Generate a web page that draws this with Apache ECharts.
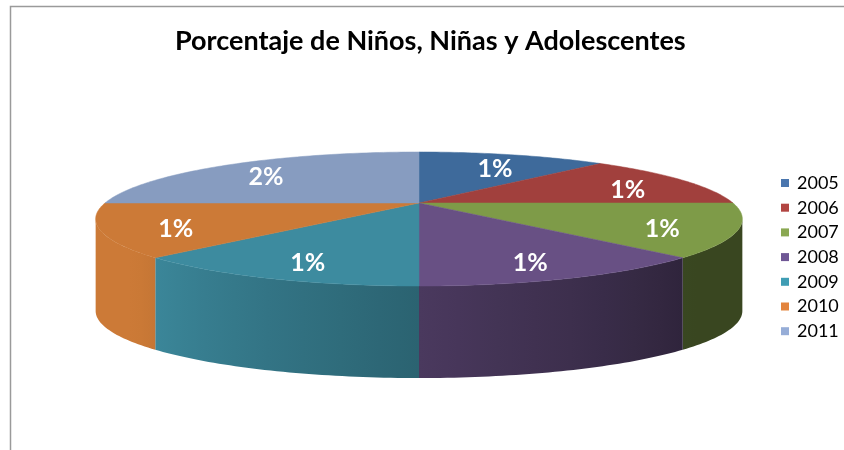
<!DOCTYPE html>
<html>
<head>
<meta charset="utf-8">
<script src="https://cdn.jsdelivr.net/npm/echarts@6/dist/echarts.min.js"></script>
<style>
html,body{margin:0;padding:0;background:#fff;}
#chart{width:844px;height:450px;}
</style>
</head>
<body>
<div id="chart"></div>
<script>
// ---- data ----
const years = ['2005', '2006', '2007', '2008', '2009', '2010', '2011'];
const values = [0.95, 1.05, 1.02, 0.98, 0.98, 1.02, 2.0];
const titleText = 'Porcentaje de Niños, Niñas y Adolescentes';

// ---- styles ----
const legendColors = ['#4A76AE', '#B24542', '#8AA852', '#6F5795', '#3F9DB4', '#E3843D', '#96ADD7'];
const topColors = ['#3E6A9B', '#A1403D', '#7E9B48', '#685084', '#3D8B9F', '#CC7A37', '#879CC0'];

// projection of the tilted (perspective) pie
const CX = 419, CY = 203, RX = 314, RY = 63.2, K = 0.2388, DEPTH = 92;
const SIL = Math.acos(-K) * 180 / Math.PI; // silhouette angle
function proj(deg, r, drop) {
  const t = deg * Math.PI / 180;
  const u = Math.sin(t) * r, v = -Math.cos(t) * r;
  const den = 1 - K * v;
  return [CX + RX * u / den, CY + RY * v / den + (drop || 0)];
}
function shade(hex, f) {
  const n = parseInt(hex.slice(1), 16);
  const r = Math.round(((n >> 16) & 255) * f), g = Math.round(((n >> 8) & 255) * f), b = Math.round((n & 255) * f);
  return 'rgb(' + r + ',' + g + ',' + b + ')';
}
function wallFactor(deg) {
  const f = 0.45 + (deg - 135) / 90 * 0.52;
  return Math.max(0.45, Math.min(1.0, f));
}

const total = values.reduce((a, b) => a + b, 0);
let cum = 0;
const series = years.map((y, i) => {
  const start = cum;
  cum += values[i];
  return {
    type: 'custom',
    name: y,
    coordinateSystem: 'none',
    itemStyle: { color: legendColors[i] },
    data: [[values[i], start, total, i]],
    renderItem: function (params, api) {
      const v = api.value(0), s = api.value(1), tot = api.value(2), idx = api.value(3);
      const a0 = s / tot * 360, a1 = (s + v) / tot * 360;
      const base = topColors[idx];
      const children = [];
      const pts = [proj(0, 0)];
      const steps = Math.max(2, Math.ceil(a1 - a0));
      for (let k = 0; k <= steps; k++) pts.push(proj(a0 + (a1 - a0) * k / steps, 1));
      const w0 = Math.max(a0, SIL), w1 = Math.min(a1, 360 - SIL);
      if (w1 > w0) {
        const wp = [];
        const ws = Math.max(2, Math.ceil(w1 - w0));
        for (let k = 0; k <= ws; k++) wp.push(proj(w0 + (w1 - w0) * k / ws, 1));
        for (let k = ws; k >= 0; k--) wp.push(proj(w0 + (w1 - w0) * k / ws, 1, DEPTH));
        const samp = [];
        for (let k = 0; k <= 8; k++) {
          const d = w0 + (w1 - w0) * k / 8;
          samp.push([proj(d, 1)[0], d]);
        }
        let xmin = Infinity, xmax = -Infinity;
        wp.forEach(p => { xmin = Math.min(xmin, p[0]); xmax = Math.max(xmax, p[0]); });
        const stops = samp.map(p => ({
          offset: Math.max(0, Math.min(1, (p[0] - xmin) / (xmax - xmin || 1))),
          color: shade(base, wallFactor(p[1]))
        }));
        stops.sort((p, q) => p.offset - q.offset);
        children.push({
          type: 'polygon', z2: 1,
          shape: { points: wp },
          style: { fill: { type: 'linear', x: xmin, y: 0, x2: xmax, y2: 0, global: true, colorStops: stops }, stroke: null }
        });
      }
      children.push({
        type: 'polygon', z2: 10,
        shape: { points: pts },
        style: { fill: base, stroke: base, lineWidth: 0.5 }
      });
      const lp = proj((a0 + a1) / 2, 0.78, 5);
      children.push({
        type: 'text', z2: 20,
        x: lp[0], y: lp[1],
        style: {
          text: Math.round(v) + '%', fill: '#ffffff',
          font: 'bold 25px Lato, "Liberation Sans", sans-serif',
          align: 'center', verticalAlign: 'middle'
        }
      });
      return { type: 'group', children: children };
    }
  };
});

const chart = echarts.init(document.getElementById('chart'), null, { renderer: 'canvas' });
chart.setOption({
  animation: false,
  backgroundColor: '#ffffff',
  color: legendColors,
  title: {
    text: titleText,
    left: 175,
    top: 28,
    padding: 0,
    textStyle: { fontFamily: 'Lato, "Liberation Sans", sans-serif', fontWeight: 'bold', fontSize: 27, color: '#000' }
  },
  legend: {
    orient: 'vertical',
    left: 776,
    top: 169,
    icon: 'rect',
    itemWidth: 8,
    itemHeight: 8,
    itemGap: 6.7,
    selectedMode: false,
    data: years,
    textStyle: { fontFamily: 'Lato, "Liberation Sans", sans-serif', fontSize: 18, lineHeight: 18, color: '#000', padding: [0, 0, 0, 3] }
  },
  graphic: [{
    type: 'rect', silent: true, z: -1,
    shape: { x: 10.5, y: 6.5, width: 860, height: 460 },
    style: { fill: null, stroke: '#9a9a9a', lineWidth: 1.5 }
  }],
  series: series
});
</script>
</body>
</html>
